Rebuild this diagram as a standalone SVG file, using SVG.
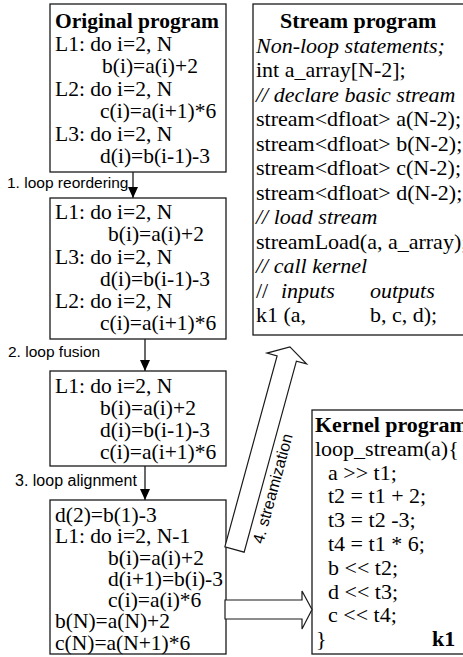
<svg xmlns="http://www.w3.org/2000/svg" width="463" height="657" viewBox="0 0 463 657">
<defs>
<style>
.box{fill:#fff;stroke:#1a1a1a;stroke-width:1.3}
.code{font-family:"Liberation Serif","Times New Roman",serif;font-size:21.5px;fill:#000}
.rcode{font-family:"Liberation Serif","Times New Roman",serif;font-size:22px;fill:#000}
.b{font-weight:bold}
.i{font-style:italic}
.lab{font-family:"Liberation Sans",Arial,sans-serif;font-size:15.5px;fill:#000}
.conn{fill:none;stroke:#1a1a1a;stroke-width:1.3}
.hollow{fill:#fff;stroke:#1a1a1a;stroke-width:1.2;stroke-linejoin:miter}
</style>
<marker id="ah" markerUnits="userSpaceOnUse" markerWidth="11" markerHeight="10" refX="11" refY="5" orient="auto">
<path d="M0,0 L11,5 L0,10 z" fill="#000"/>
</marker>
</defs>
<rect width="463" height="657" fill="#fff"/>

<g id="original">
<rect class="box" x="50" y="4" width="176" height="168"/>
<text class="code b" x="55" y="28">Original program</text>
<text class="code" x="55" y="50.5">L1: do i=2, N</text>
<text class="code" x="102" y="73">b(i)=a(i)+2</text>
<text class="code" x="55" y="95.5">L2: do i=2, N</text>
<text class="code" x="100" y="118">c(i)=a(i+1)*6</text>
<text class="code" x="55" y="140.5">L3: do i=2, N</text>
<text class="code" x="100" y="163">d(i)=b(i-1)-3</text>
</g>

<g id="reordered">
<rect class="box" x="50" y="198" width="176" height="141"/>
<text class="code" x="55" y="219">L1: do i=2, N</text>
<text class="code" x="108" y="241">b(i)=a(i)+2</text>
<text class="code" x="55" y="263.5">L3: do i=2, N</text>
<text class="code" x="100" y="286">d(i)=b(i-1)-3</text>
<text class="code" x="55" y="308">L2: do i=2, N</text>
<text class="code" x="100" y="330">c(i)=a(i+1)*6</text>
</g>

<g id="fused">
<rect class="box" x="50" y="371" width="176" height="95"/>
<text class="code" x="55" y="392.5">L1: do i=2, N</text>
<text class="code" x="100" y="414.5">b(i)=a(i)+2</text>
<text class="code" x="100" y="436.5">d(i)=b(i-1)-3</text>
<text class="code" x="100" y="458.5">c(i)=a(i+1)*6</text>
</g>

<g id="aligned">
<rect class="box" x="50" y="500" width="176" height="154"/>
<text class="code" x="55" y="522">d(2)=b(1)-3</text>
<text class="code" x="55" y="543">L1: do i=2, N-1</text>
<text class="code" x="108" y="564.5">b(i)=a(i)+2</text>
<text class="code" x="108" y="586">d(i+1)=b(i)-3</text>
<text class="code" x="108" y="607">c(i)=a(i)*6</text>
<text class="code" x="55" y="628">b(N)=a(N)+2</text>
<text class="code" x="55" y="649.5">c(N)=a(N+1)*6</text>
</g>

<g id="stream">
<rect class="box" x="253" y="4" width="220" height="331"/>
<text class="rcode b" x="280" y="28">Stream program</text>
<text class="rcode i" x="256" y="52.5">Non-loop statements;</text>
<text class="rcode" x="256" y="77">int a_array[N-2];</text>
<text class="rcode i" x="256" y="101.5">// declare basic stream</text>
<text class="rcode" x="256" y="126">stream&lt;dfloat&gt; a(N-2);</text>
<text class="rcode" x="256" y="150.5">stream&lt;dfloat&gt; b(N-2);</text>
<text class="rcode" x="256" y="175">stream&lt;dfloat&gt; c(N-2);</text>
<text class="rcode" x="256" y="199.5">stream&lt;dfloat&gt; d(N-2);</text>
<text class="rcode i" x="256" y="224">// load stream</text>
<text class="rcode" x="256" y="248.5">streamLoad(a, a_array);</text>
<text class="rcode i" x="256" y="273">// call kernel</text>
<text class="rcode" x="256" y="297.5">//</text>
<text class="rcode i" x="281" y="297.5">inputs</text>
<text class="rcode i" x="370" y="297.5">outputs</text>
<text class="rcode" x="256" y="322">k1 (a,</text>
<text class="rcode" x="370" y="322">b, c, d);</text>
</g>

<g id="kernel">
<rect class="box" x="312" y="410" width="160" height="244"/>
<text class="rcode b" x="315" y="432">Kernel program</text>
<text class="rcode" x="315" y="456">loop_stream(a){</text>
<text class="rcode" x="328" y="480">a &gt;&gt; t1;</text>
<text class="rcode" x="328" y="503">t2 = t1 + 2;</text>
<text class="rcode" x="328" y="527">t3 = t2 -3;</text>
<text class="rcode" x="328" y="551">t4 = t1 * 6;</text>
<text class="rcode" x="328" y="575">b &lt;&lt; t2;</text>
<text class="rcode" x="328" y="599">d &lt;&lt; t3;</text>
<text class="rcode" x="328" y="622">c &lt;&lt; t4;</text>
<text class="rcode" x="316" y="646">}</text>
<text class="rcode b" x="432" y="646">k1</text>
</g>

<g id="connectors">
<line class="conn" x1="133" y1="172" x2="133" y2="198" marker-end="url(#ah)"/>
<line class="conn" x1="145" y1="339" x2="145" y2="371" marker-end="url(#ah)"/>
<line class="conn" x1="145" y1="466" x2="145" y2="500" marker-end="url(#ah)"/>
<text class="lab" x="7" y="188">1. loop reordering</text>
<text class="lab" x="8" y="357">2. loop fusion</text>
<text class="lab" x="15" y="486" style="font-size:16px">3. loop alignment</text>
<polygon class="hollow" transform="translate(234.5,549.5) rotate(15.3)" points="-10,0 -10,-198 -20.5,-198 0,-210 20.5,-198 10,-198 10,0"/>
<text class="lab" style="font-size:16px" text-anchor="middle" transform="translate(278,490) rotate(-74.7)">4. streamization</text>
<polygon class="hollow" points="225,600 302,600 302,591 312,609.5 302,629 302,619 225,619"/>
</g>
</svg>
